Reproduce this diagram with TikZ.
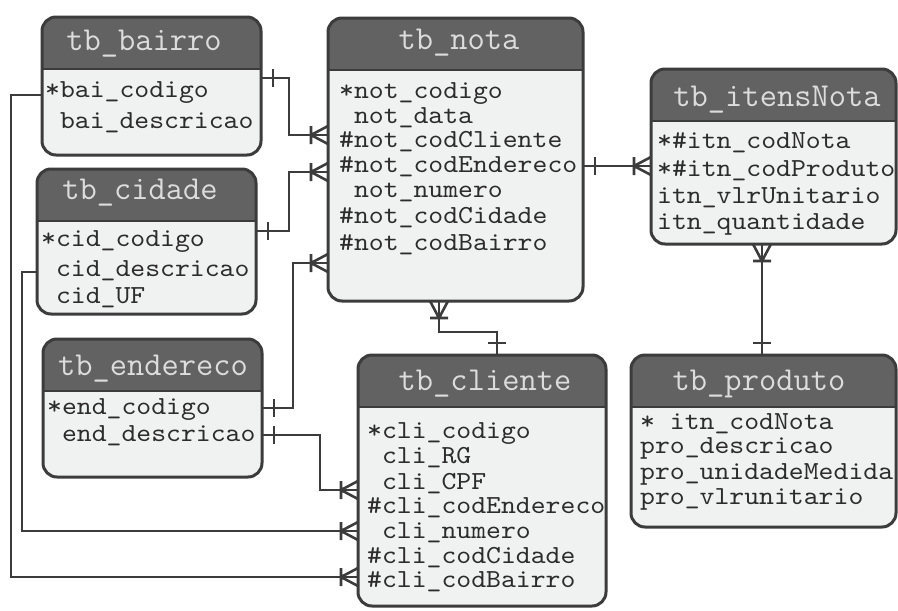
\documentclass[tikz,border=0pt]{standalone}
\usepackage{fontspec}
\usetikzlibrary{arrows.meta}

\newfontfamily\campofont[FakeStretch=1.09]{lmmono10-regular.otf}

\definecolor{borda}{HTML}{3C3C3C}
\definecolor{corpo}{HTML}{F0F1F1}
\definecolor{cabeca}{HTML}{626262}
\definecolor{titcor}{HTML}{DCDCDC}
\definecolor{campocor}{HTML}{2C2C2C}

% crow's foot with bar (many)
\pgfdeclarearrow{
  name = Crow,
  setup code = {
    \pgfarrowssettipend{0pt}
    \pgfarrowssetlineend{0pt}
    \pgfarrowssetbackend{-17pt}
    \pgfarrowssetvisualbackend{-17pt}
    \pgfarrowshullpoint{0pt}{9pt}
    \pgfarrowshullpoint{0pt}{-9pt}
    \pgfarrowshullpoint{-17pt}{9pt}
    \pgfarrowshullpoint{-17pt}{-9pt}
  },
  drawing code = {
    \pgfsetlinewidth{2.6pt}
    \pgfsetdash{}{0pt}
    \pgfpathmoveto{\pgfpoint{-17pt}{-9pt}}
    \pgfpathlineto{\pgfpoint{-17pt}{9pt}}
    \pgfpathmoveto{\pgfpoint{0pt}{9pt}}
    \pgfpathlineto{\pgfpoint{-17pt}{0pt}}
    \pgfpathlineto{\pgfpoint{0pt}{-9pt}}
    \pgfusepathqstroke
  }
}

% single bar (one)
\pgfdeclarearrow{
  name = Um,
  setup code = {
    \pgfarrowssettipend{0pt}
    \pgfarrowssetlineend{0pt}
    \pgfarrowssetbackend{-12pt}
    \pgfarrowssetvisualbackend{-12pt}
    \pgfarrowshullpoint{0pt}{9pt}
    \pgfarrowshullpoint{0pt}{-9pt}
    \pgfarrowshullpoint{-12pt}{9pt}
    \pgfarrowshullpoint{-12pt}{-9pt}
  },
  drawing code = {
    \pgfsetlinewidth{2.6pt}
    \pgfsetdash{}{0pt}
    \pgfpathmoveto{\pgfpoint{-12pt}{-9pt}}
    \pgfpathlineto{\pgfpoint{-12pt}{9pt}}
    \pgfusepathqstroke
  }
}

\newcommand{\esp}{\hphantom{*}}

\begin{document}
\begin{tikzpicture}[
    x=1pt,
    y=-1pt,
    tabela/.style={
      draw=borda,
      fill=corpo,
      line width=3pt,
      rounded corners=14pt,
      outer sep=0pt,
      inner sep=0pt,
      path picture={
        \fill[cabeca, sharp corners] (path picture bounding box.north west)
          rectangle ([yshift=-52pt]path picture bounding box.north east);
        \draw[borda, sharp corners, line width=1.2pt]
          ([yshift=-52pt]path picture bounding box.north west)
          -- ([yshift=-52pt]path picture bounding box.north east);
      }
    },
    titulo/.style={
      anchor=base,
      inner sep=0pt,
      text=titcor,
      font=\ttfamily\fontsize{33.5pt}{36pt}\selectfont
    },
    campo/.style={
      anchor=base west,
      inner sep=0pt,
      text=campocor,
      font=\campofont\fontsize{26pt}{28pt}\selectfont
    },
    rel/.style={draw=borda, line width=2.6pt}
  ]
    \useasboundingbox (0,0) rectangle (898,611);

    % tables
    \node[tabela, minimum width=219pt, minimum height=138pt] (bairro) at (151.5, 86) {};
    \node[tabela, minimum width=219pt, minimum height=145pt] (cidade) at (146.5, 241.5) {};
    \node[tabela, minimum width=255pt, minimum height=283pt] (nota) at (455.5, 159.5) {};
    \node[tabela, minimum width=245pt, minimum height=175pt] (itens) at (773.5, 156.5) {};
    \node[tabela, minimum width=219pt, minimum height=138pt] (endereco) at (152.5, 408) {};
    \node[tabela, minimum width=248pt, minimum height=251pt] (cliente) at (482, 480.5) {};
    \node[tabela, minimum width=265pt, minimum height=172pt] (produto) at (763.5, 441) {};

    % titles
    \node[titulo] (bairro_tit) at (144, 50) {tb\_bairro};
    \node[titulo] (cidade_tit) at (140, 199) {tb\_cidade};
    \node[titulo] (nota_tit) at (459, 49) {tb\_nota};
    \node[titulo] (itens_tit) at (777, 106) {tb\_itensNota};
    \node[titulo] (endereco_tit) at (153, 375) {tb\_endereco};
    \node[titulo] (cliente_tit) at (485, 390) {tb\_cliente};
    \node[titulo] (produto_tit) at (759, 390) {tb\_produto};

    % fields
    \node[campo] (bai_codigo) at (45, 97) {*bai\_codigo};
    \node[campo] (bai_descricao) at (45, 128) {\esp bai\_descricao};

    \node[campo] (cid_codigo) at (41, 246) {*cid\_codigo};
    \node[campo] (cid_descricao) at (41, 276) {\esp cid\_descricao};
    \node[campo] (cid_uf) at (41, 303) {\esp cid\_UF};

    \node[campo] (not_codigo) at (339, 98) {*not\_codigo};
    \node[campo] (not_data) at (339, 123) {\esp not\_data};
    \node[campo] (not_codcliente) at (339, 147) {\#not\_codCliente};
    \node[campo] (not_codendereco) at (339, 172) {\#not\_codEndereco};
    \node[campo] (not_numero) at (339, 197) {\esp not\_numero};
    \node[campo] (not_codcidade) at (339, 223) {\#not\_codCidade};
    \node[campo] (not_codbairro) at (339, 250) {\#not\_codBairro};

    \node[campo] (itn_codnota) at (657, 148) {*\#itn\_codNota};
    \node[campo] (itn_codproduto) at (657, 176) {*\#itn\_codProduto};
    \node[campo] (itn_vlrunitario) at (657, 203) {itn\_vlrUnitario};
    \node[campo] (itn_quantidade) at (657, 229) {itn\_quantidade};

    \node[campo] (end_codigo) at (47, 414) {*end\_codigo};
    \node[campo] (end_descricao) at (47, 441) {\esp end\_descricao};

    \node[campo] (cli_codigo) at (367, 438) {*cli\_codigo};
    \node[campo] (cli_rg) at (367, 463) {\esp cli\_RG};
    \node[campo] (cli_cpf) at (367, 489) {\esp cli\_CPF};
    \node[campo] (cli_codendereco) at (367, 513) {\#cli\_codEndereco};
    \node[campo] (cli_numero) at (367, 538) {\esp cli\_numero};
    \node[campo] (cli_codcidade) at (367, 563) {\#cli\_codCidade};
    \node[campo] (cli_codbairro) at (367, 587) {\#cli\_codBairro};

    \node[campo] (pro_codigo) at (640, 429) {* itn\_codNota};
    \node[campo] (pro_descricao) at (640, 453) {pro\_descricao};
    \node[campo] (pro_unidade) at (640, 479) {pro\_unidadeMedida};
    \node[campo] (pro_vlrunitario) at (640, 504) {pro\_vlrunitario};

    % relationships
    \draw[rel, Um-Crow] (bairro.east |- 0,78) -- (289,78) |- (nota.west |- 0,135);
    \draw[rel, Um-Crow] (cidade.east |- 0,231) -- (289,231) |- (nota.west |- 0,172);
    \draw[rel, Um-Crow] (endereco.east |- 0,408) -- (293,408) |- (nota.west |- 0,263);
    \draw[rel, Um-Crow] (endereco.east |- 0,435) -- (320,435) |- (cliente.west |- 0,490);
    \draw[rel, -Crow] (cidade.west |- 0,272) -- (22,272) |- (cliente.west |- 0,531);
    \draw[rel, -Crow] (bairro.west |- 0,95) -- (11,95) |- (cliente.west |- 0,577);
    \draw[rel, Um-Crow] (nota.east |- 0,166) -- (itens.west |- 0,166);
    \draw[rel, Crow-Um] (nota.south -| 439,0) -- (439,332) -| (cliente.north -| 497,0);
    \draw[rel, Crow-Um] (itens.south -| 762,0) -- (produto.north -| 762,0);

  \end{tikzpicture}
\end{document}
